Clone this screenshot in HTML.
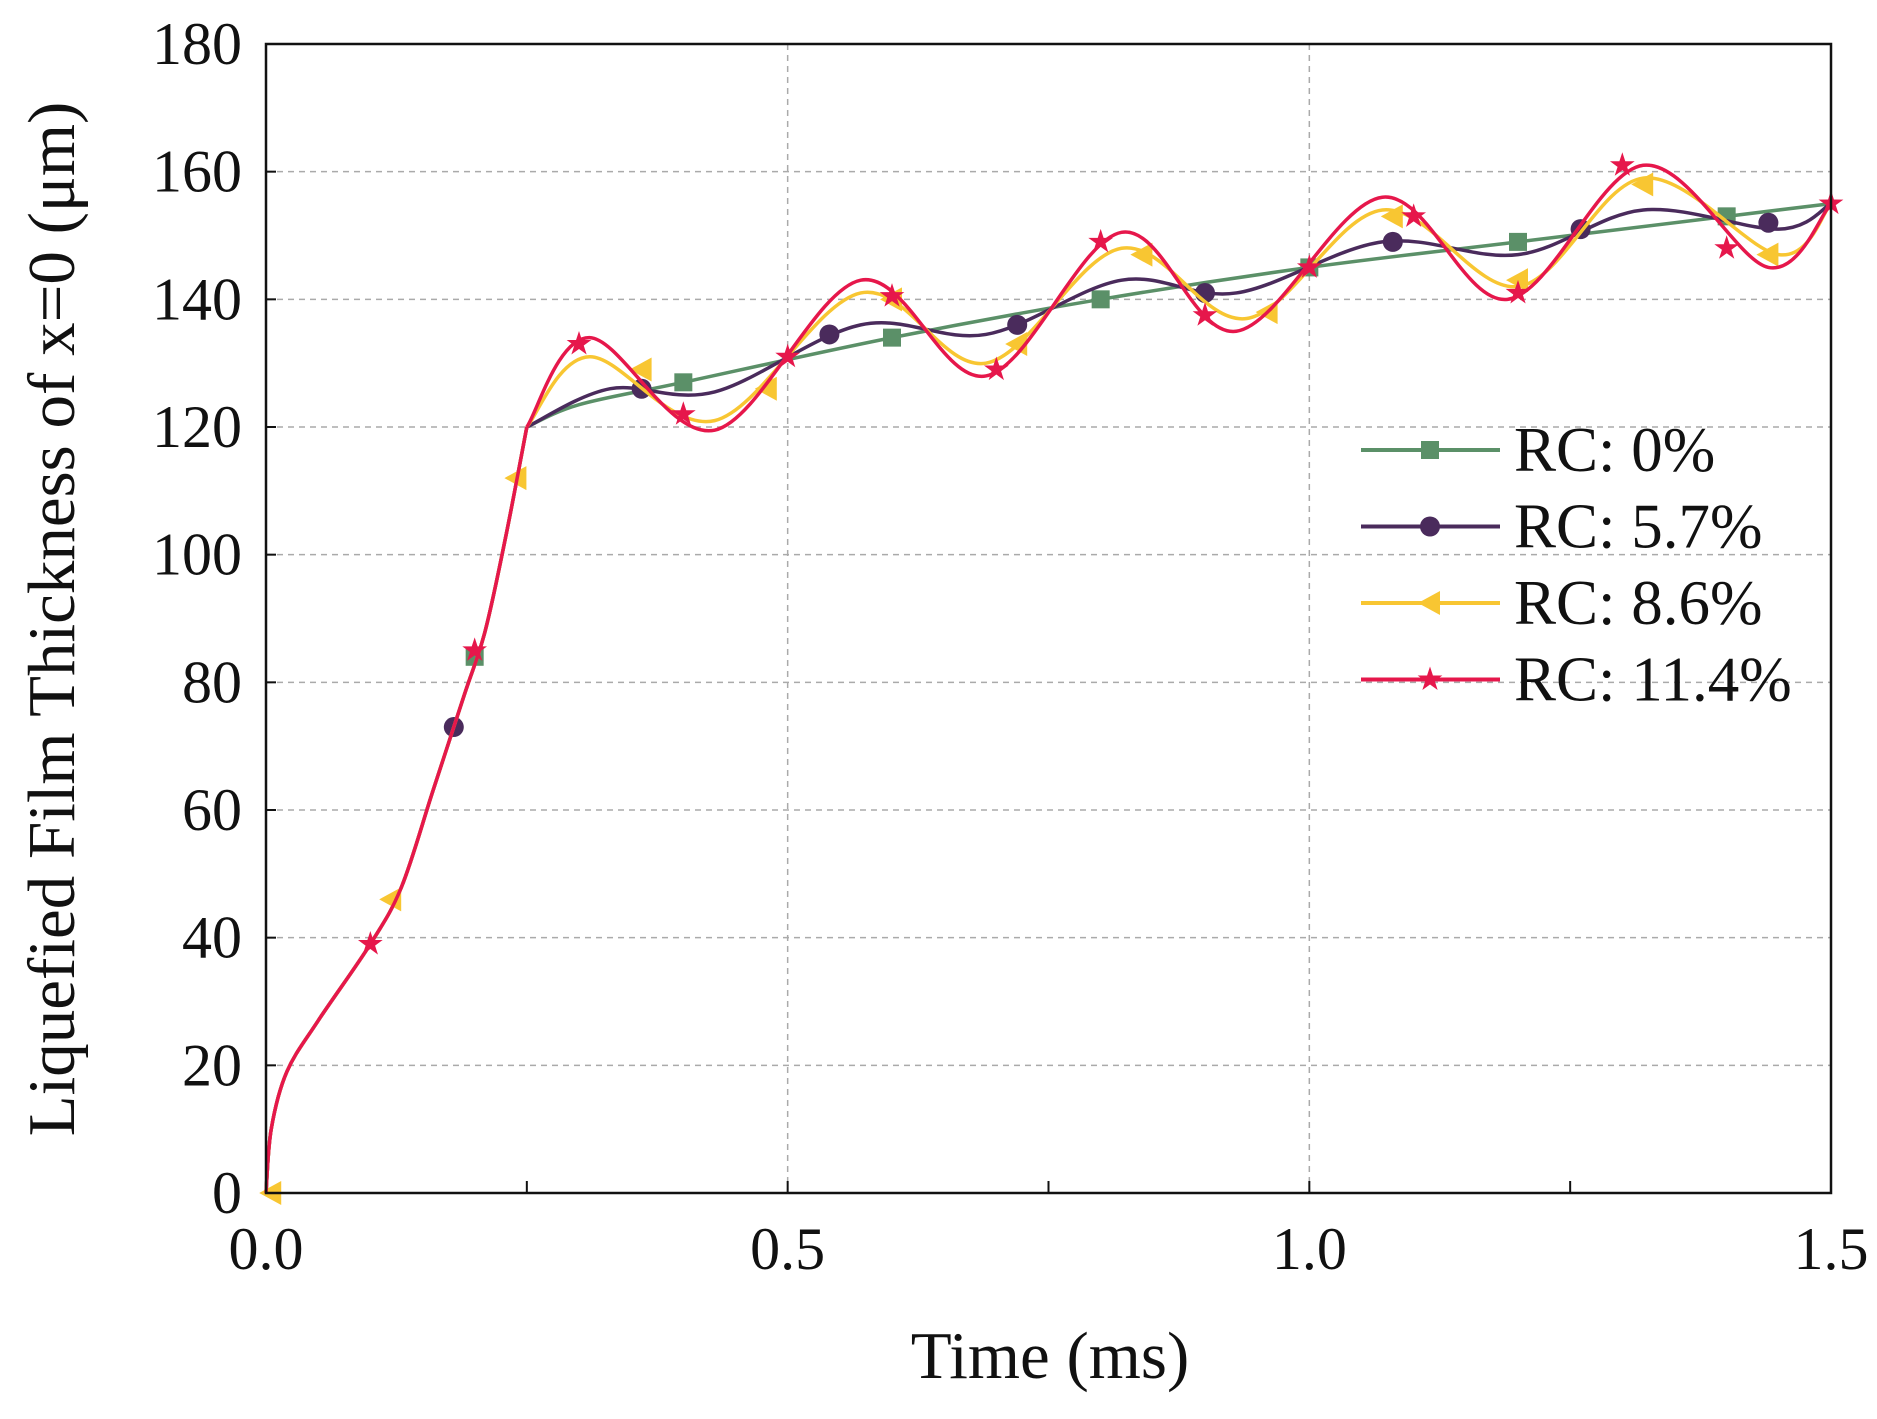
<!DOCTYPE html>
<html><head><meta charset="utf-8">
<style>
html,body{margin:0;padding:0;background:#fff}
svg{display:block}
text{font-family:"Liberation Serif",serif;fill:#111}
</style></head>
<body>
<svg id="chart" width="1877" height="1419" viewBox="0 0 1877 1419" xmlns="http://www.w3.org/2000/svg">
<g id="grid"></g>
<g id="series"></g>
<rect x="266" y="44" width="1565" height="1149" fill="none" stroke="#111" stroke-width="2.5"/>
<g id="axes"></g>
<text x="1050" y="1378" font-size="67" text-anchor="middle">Time (ms)</text>
<text transform="translate(74,619) rotate(-90)" font-size="67" text-anchor="middle">Liquefied Film Thickness of x=0 (μm)</text>
<g id="legend"></g>
</svg>
<script>
const xTicks=[0,0.5,1.0,1.5];
const xTickLabels=["0.0","0.5","1.0","1.5"];
const yTicks=[0,20,40,60,80,100,120,140,160,180];
const seriesNames=["RC: 0%","RC: 5.7%","RC: 8.6%","RC: 11.4%"];
const rise=[[0,0],[0.005,10],[0.02,19],[0.05,27],[0.1,39],[0.13,48],[0.16,63],[0.19,78],[0.21,88],[0.23,103],[0.25,120]];
const line0=[[0.25,120],[0.3,123.5],[0.4,127],[0.6,134],[0.8,140],[1.0,145],[1.2,149],[1.4,153],[1.5,155]];
const line1=[[0.25,120],[0.33,126],[0.43,125.5],[0.57,136],[0.69,134.5],[0.82,143],[0.93,141],[1.07,149],[1.2,147],[1.32,154],[1.45,151],[1.5,155]];
const line2=[[0.25,120],[0.31,131],[0.43,121],[0.57,141],[0.69,130],[0.82,148],[0.94,137],[1.07,154],[1.2,142],[1.32,159],[1.45,147],[1.5,155]];
const line3=[[0.25,120],[0.31,134],[0.43,119.5],[0.57,143],[0.69,128],[0.82,150.5],[0.93,135],[1.07,156],[1.19,140],[1.32,161],[1.44,145],[1.5,155]];
const marks0=[[0.2,84],[0.4,127],[0.6,134],[0.8,140],[1.0,145],[1.2,149],[1.4,153]];
const marks1=[[0.18,73],[0.36,126],[0.54,134.5],[0.72,136],[0.9,141],[1.08,149],[1.26,151],[1.44,152]];
const marks2=[[0.005,0],[0.12,46],[0.24,112],[0.36,129],[0.48,126],[0.6,140],[0.72,133],[0.84,147],[0.96,138],[1.08,153],[1.2,143],[1.32,158],[1.44,147]];
const marks3=[[0.1,39],[0.2,85],[0.3,133],[0.4,122],[0.5,131],[0.6,140.5],[0.7,129],[0.8,149],[0.9,137.5],[1.0,145],[1.1,153],[1.2,141],[1.3,161],[1.4,148],[1.5,155]];

const NS="http://www.w3.org/2000/svg";
const X0=266,X1=1831,Y0=1193,Y1=44;
const sx=v=>X0+(v/1.5)*(X1-X0);
const sy=v=>Y0-(v/180)*(Y0-Y1);
function el(tag,attrs,parent){const e=document.createElementNS(NS,tag);for(const k in attrs)e.setAttribute(k,attrs[k]);parent.appendChild(e);return e;}
const grid=document.getElementById('grid'),axes=document.getElementById('axes'),ser=document.getElementById('series'),leg=document.getElementById('legend');
yTicks.forEach(v=>{
  if(v>0&&v<180){const g=el('line',{x1:X0,x2:X1,y1:sy(v),y2:sy(v),stroke:'#aaa','stroke-width':1.5,'stroke-dasharray':'6,5'},grid);
  
  }
  const t=el('text',{x:X0-24,y:sy(v)+20,'font-size':60,'text-anchor':'end'},axes);t.textContent=v;
  
  
  const tk=el('line',{x1:X0,x2:X0+10,y1:sy(v),y2:sy(v),stroke:'#111','stroke-width':2},axes);
  
  
});
xTicks.forEach((v,i)=>{
  if(v>0&&v<1.5){const g=el('line',{x1:sx(v),x2:sx(v),y1:Y1,y2:Y0,stroke:'#aaa','stroke-width':1.5,'stroke-dasharray':'6,5'},grid);
  
  }
  const t=el('text',{x:sx(v),y:Y0+76,'font-size':60,'text-anchor':'middle'},axes);t.textContent=xTickLabels[i];
  
  
});
for(let v=0;v<=1.5001;v+=0.25){const tk=el('line',{x1:sx(v),x2:sx(v),y1:Y0,y2:Y0-12,stroke:'#111','stroke-width':2},axes);
  
  }
function pathD(pts){
  const p=pts.map(a=>[sx(a[0]),sy(a[1])]);let d='M'+p[0][0]+','+p[0][1];
  for(let i=0;i<p.length-1;i++){const a=p[i-1]||p[i],b=p[i],c=p[i+1],e=p[i+2]||c;
    d+=' C'+(b[0]+(c[0]-a[0])/6)+','+(b[1]+(c[1]-a[1])/6)+' '+(c[0]-(e[0]-b[0])/6)+','+(c[1]-(e[1]-b[1])/6)+' '+c[0]+','+c[1];}
  return d;}
const colors=['#5b9068','#4a2b5c','#f8c632','#e6174b'];
function marker(type,x,y,c,parent){
  let m;
  if(type===0)m=el('rect',{x:x-9,y:y-9,width:18,height:18,fill:c},parent);
  else if(type===1)m=el('circle',{cx:x,cy:y,r:10,fill:c},parent);
  else if(type===2)m=el('polygon',{points:`${x-12},${y} ${x+10},${y-12} ${x+10},${y+12}`,fill:c},parent);
  else{let s='';for(let k=0;k<10;k++){const r=k%2?5:13,a=-Math.PI/2+k*Math.PI/5;s+=(x+r*Math.cos(a))+','+(y+r*Math.sin(a))+' ';}m=el('polygon',{points:s,fill:c},parent);}
  return m;}
const lines=[line0,line1,line2,line3],marks=[marks0,marks1,marks2,marks3];
lines.forEach((ln,i)=>{
  const g=el('g',{},ser);
  
  
  const r=el('path',{d:pathD(rise),fill:'none',stroke:colors[i],'stroke-width':3.5},g);
  
  
  const p=el('path',{d:pathD(ln),fill:'none',stroke:colors[i],'stroke-width':3.5},g);
  
  
  marks[i].forEach(m=>{const mk=marker(i,sx(m[0]),sy(m[1]),colors[i],g);
    
    });
});
seriesNames.forEach((n,i)=>{
  const y=450+i*76.5;
  const g=el('g',{},leg);
  
  
  el('line',{x1:1361,x2:1500,y1:y,y2:y,stroke:colors[i],'stroke-width':4},g);
  marker(i,1430,y,colors[i],g);
  const t=el('text',{x:1514,y:y+21,'font-size':63},g);t.textContent=n;
});
</script>
</body></html>
